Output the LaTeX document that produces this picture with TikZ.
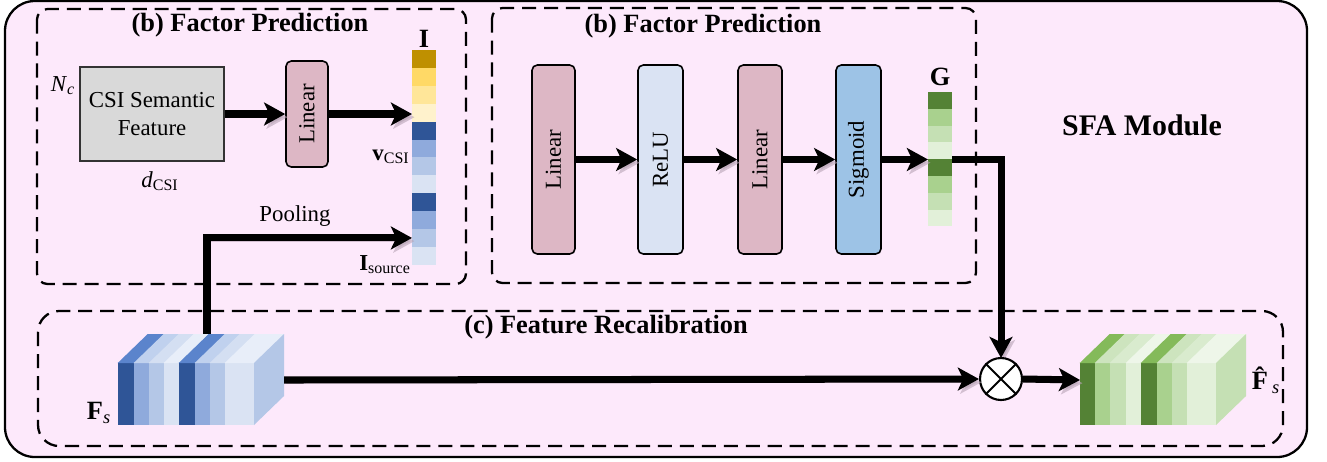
\documentclass[tikz,border=0pt]{standalone}
\usepackage{fontspec}
\setmainfont{Liberation Serif}
\usetikzlibrary{arrows.meta,calc}
\definecolor{bgpink}{RGB}{253,233,251}
\definecolor{gold1}{HTML}{BF9000}
\definecolor{gold2}{HTML}{FFD966}
\definecolor{gold3}{HTML}{FFE699}
\definecolor{gold4}{HTML}{FFF2CC}
\definecolor{blue1}{HTML}{2F5597}
\definecolor{blue2}{HTML}{8FAADC}
\definecolor{blue3}{HTML}{B4C7E7}
\definecolor{blue4}{HTML}{DAE3F3}
\definecolor{bt1}{HTML}{5B84CC}
\definecolor{bt2}{HTML}{C0D1EE}
\definecolor{bt3}{HTML}{D4DFF2}
\definecolor{bt4}{HTML}{E8EEF9}
\definecolor{green1}{HTML}{548235}
\definecolor{green2}{HTML}{A9D18E}
\definecolor{green3}{HTML}{C5E0B4}
\definecolor{green4}{HTML}{E2F0D9}
\definecolor{gt1}{HTML}{84BA5A}
\definecolor{gt2}{HTML}{CDE4BE}
\definecolor{gt3}{HTML}{D9EBCE}
\definecolor{gt4}{HTML}{EEF6E9}
\definecolor{linc}{HTML}{DDB7C5}
\definecolor{reluc}{HTML}{DAE3F3}
\definecolor{sigc}{HTML}{9DC3E6}
\definecolor{csic}{HTML}{D9D9D9}
\definecolor{shadc}{HTML}{B8A3B6}
\begin{document}
\begin{tikzpicture}[x=0.02cm,y=-0.02cm,
  dbox/.style={draw=black, line width=1.3pt, dash pattern=on 8pt off 4.5pt, rounded corners=6pt},
  ttl/.style={font=\fontsize{15}{18}\selectfont\bfseries, inner sep=1pt},
  lbl/.style={font=\fontsize{13}{16}\selectfont, inner sep=1pt},
  layer/.style={draw=black, line width=0.9pt, rounded corners=3pt, minimum height=3.78cm, inner sep=0pt, font=\fontsize{13}{16}\selectfont},
  cellI/.style={inner sep=0pt, outer sep=0pt, minimum width=0.48cm, minimum height=0.358cm},
  cellG/.style={inner sep=0pt, outer sep=0pt, minimum width=0.48cm, minimum height=0.336cm},
  arr/.style={line width=4pt, -{Stealth[length=12pt,width=13pt,inset=3pt]},
    preaction={draw=shadc, opacity=0.6, transform canvas={shift={(1.4pt,-1.8pt)}}}},
  conn/.style={line width=4pt}]
\useasboundingbox (0,0) rectangle (1327,461);
% outer frame
\draw[line width=1.3pt, fill=bgpink, rounded corners=17pt] (5,1) rectangle (1307,457);
\node[font=\fontsize{17}{20}\selectfont\bfseries] (sfa) at (1142,125) {SFA Module};
% dashed boxes
\draw[dbox] (37,9) rectangle (466,284);
\draw[dbox] (492,8) rectangle (976,283);
\draw[dbox, rounded corners=12pt] (38,311) rectangle (1283,446);
\node[ttl] (t1) at (250,25) {(b) Factor Prediction};
\node[ttl] (t2) at (703,26) {(b) Factor Prediction};
\node[ttl] (t3) at (606,327) {(c) Feature Recalibration};
% box 1
\node[draw=black!80, line width=0.9pt, fill=csic, minimum width=2.88cm, minimum height=1.88cm, lbl, align=center] (csi) at (152,114) {CSI Semantic\\Feature};
\node[lbl] (nc) at (63,86) {\textit{N}\textsubscript{\textit{c}}};
\node[lbl] (dcsi) at (160,181) {\textit{d}\textsubscript{CSI}};
\node[layer, fill=linc, minimum width=0.84cm, minimum height=2.12cm] (lin1) at (307,114) {\rotatebox{90}{Linear}};
% I column
\foreach \i/\c in {0/gold1,1/gold2,2/gold3,3/gold4,4/blue1,5/blue2,6/blue3,7/blue4,8/blue1,9/blue2,10/blue3,11/blue4}
  \node[cellI, fill=\c] (i\i) at (424,{50+17.9*(\i+0.5)}) {};
\node[font=\fontsize{15}{18}\selectfont\bfseries] (ilab) at (424,39) {I};
\node[lbl] (vlab) at (391,157) {\textbf{v}\textsubscript{CSI}};
\node[lbl] (islab) at (385,265) {\textbf{I}\textsubscript{source}};
\draw[arr] (csi.east) -- (lin1.west);
\draw[arr] (lin1.east) -- (lin1.east -| i3.west);
% box 2
\node[layer, fill=linc, minimum width=0.86cm] (lin2) at (553.5,159.5) {\rotatebox{90}{Linear}};
\node[layer, fill=reluc, minimum width=0.9cm] (relu) at (660.5,159.5) {\rotatebox{90}{ReLU}};
\node[layer, fill=linc, minimum width=0.88cm] (lin3) at (760,159.5) {\rotatebox{90}{Linear}};
\node[layer, fill=sigc, minimum width=0.9cm] (sig) at (858.5,159.5) {\rotatebox{90}{Sigmoid}};
\foreach \i/\c in {0/green1,1/green2,2/green3,3/green4,4/green1,5/green2,6/green3,7/green4}
  \node[cellG, fill=\c] (g\i) at (940,{92+16.8*(\i+0.5)}) {};
\node[font=\fontsize{15}{18}\selectfont\bfseries] (glab) at (940,77) {G};
\draw[arr] (lin2.east) -- (relu.west);
\draw[arr] (relu.east) -- (lin3.west);
\draw[arr] (lin3.east) -- (sig.west);
\draw[arr] (sig.east) -- (sig.east -| g0.west);
% otimes
\draw[arr] (sig.east -| g0.east) -| ($(1001,379)+(0,-21)$);
\node[circle, draw=black, line width=1.2pt, fill=white, minimum size=0.84cm, inner sep=0pt] (ot) at (1001,379) {};
\draw[line width=1.1pt] (ot.north west) -- (ot.south east) (ot.north east) -- (ot.south west);
% pooling path
\coordinate (fstop) at (207,345);
\coordinate (fsr) at (284,380);
\coordinate (gl) at (1080,380);
\draw[arr] (fstop) |- (i10.west);
\node[lbl] (pool) at (295,216) {Pooling};
% blue cube
\foreach \a/\b/\cf/\ct in {118/134/blue1/bt1,134/149/blue2/bt2,149/164/blue3/bt3,164/179/blue4/bt4,179/195/blue1/bt1,195/210/blue2/bt2,210/225/blue3/bt3,225/254/blue4/bt4}{
  \fill[\cf] (\a-0.3,363) rectangle (\b+0.3,425);
  \fill[\ct] (\a-0.3,363) -- (\a+29.7,334) -- (\b+30.3,334) -- (\b+0.3,363) -- cycle;
}
\fill[blue3] (254,363) -- (284,334) -- (284,396) -- (254,425) -- cycle;
\node[font=\fontsize{15}{18}\selectfont] (fslab) at (99,413) {\textbf{F}\textsubscript{\textit{s}}};
% green cube
\foreach \a/\b/\cf/\ct in {1080/1095/green1/gt1,1095/1110/green2/gt2,1110/1126/green3/gt3,1126/1141/green4/gt4,1141/1157/green1/gt1,1157/1172/green2/gt2,1172/1187/green3/gt3,1187/1216/green4/gt4}{
  \fill[\cf] (\a-0.3,363) rectangle (\b+0.3,425);
  \fill[\ct] (\a-0.3,363) -- (\a+29.7,334) -- (\b+30.3,334) -- (\b+0.3,363) -- cycle;
}
\fill[green3] (1216,363) -- (1246,334) -- (1246,396) -- (1216,425) -- cycle;
\node[font=\fontsize{15}{18}\selectfont] (fhlab) at (1266,380) {\textbf{\^{F}}\textsubscript{\textit{s}}};
% main arrows
\draw[arr] (fsr) -- (ot.west);
\draw[arr] (ot.east) -- (gl);
\end{tikzpicture}
\end{document}
